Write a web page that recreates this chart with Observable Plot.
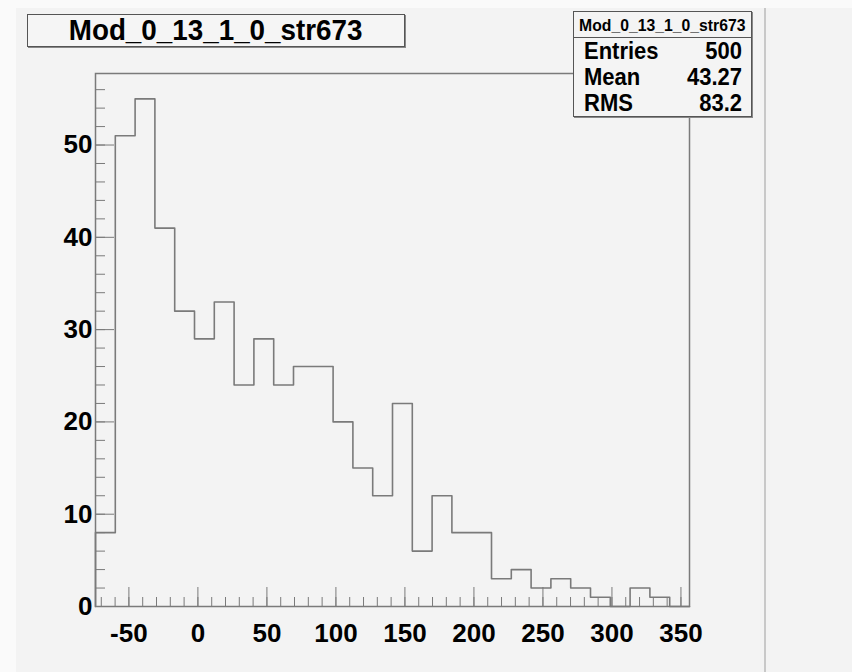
<!DOCTYPE html>
<html>
<head>
<meta charset="utf-8">
<script src="https://cdn.jsdelivr.net/npm/d3@7"></script>
<script src="https://cdn.jsdelivr.net/npm/@observablehq/plot@0.6"></script>
<style>
  html, body { margin: 0; padding: 0; background: #fafafa; }
  #page { position: relative; width: 852px; height: 672px; overflow: hidden;
          font-family: "Liberation Sans", Arial, Helvetica, sans-serif; font-weight: bold; color: #000; }
  #pad { position: absolute; left: 16px; top: 8px; width: 836px; height: 664px; background: #f3f3f3; }
  #sep { position: absolute; left: 764px; top: 8px; width: 2px; height: 664px; background: #c8c8c8; }
  #chart { position: absolute; left: 0; top: 0; }
  #title { position: absolute; left: 27px; top: 14px; width: 376px; height: 31px;
           border: 1px solid #555; box-shadow: 1px 1px 0 #888; background: #f5f5f5;
           font-size: 27px; text-align: center; line-height: 31px; }
  #title span { display: inline-block; transform: scale(1.03, 1.12); }
  #stats { position: absolute; left: 573px; top: 11px; width: 177px; height: 104px;
           border: 1px solid #555; box-shadow: 1px 1px 0 #888; background: #f4f4f4; }
  #stats .head { height: 25px; border-bottom: 1px solid #555; font-size: 15px;
                 text-align: center; line-height: 25px; }
  #stats .head span { display: inline-block; transform: scale(1.05, 1.1); }
  #stats .row { display: flex; justify-content: space-between; height: 26px; line-height: 26px;
                font-size: 22px; padding: 0 9px 0 10px; }
  #stats .row span { display: inline-block; transform: scaleY(1.12); }
  #stats .row:first-of-type { margin-top: 1px; }
</style>
</head>
<body>
<div id="page">
  <div id="pad"></div>
  <div id="sep"></div>
  <div id="chart"></div>
  <div id="title"></div>
  <div id="stats"></div>
</div>
<script>
// ---- data ----
const histName = "Mod_0_13_1_0_str673";
const binLow = -74.2;
const binHigh = 356.2;
const counts = [8, 51, 55, 41, 32, 29, 33, 24, 29, 24, 26, 26, 20, 15, 12, 22, 6, 12, 8, 8, 3, 4, 2, 3, 2, 1, 0, 2, 1, 0];
const xTickLabels = [-50, 0, 50, 100, 150, 200, 250, 300, 350];
const xMinorStep = 10;
const yTickLabels = [0, 10, 20, 30, 40, 50];
const yMinorStep = 2;
const yMax = 57.75;
const statLabels = ["Entries", "Mean", "RMS"];
const statValues = ["500", "43.27", "83.2"];

// ---- derived structures ----
const nBins = counts.length;
const binWidth = (binHigh - binLow) / nBins;
const edges = d3.range(nBins + 1).map(i => binLow + i * binWidth);
const outline = [{x: edges[0], y: 0}]
  .concat(counts.map((c, i) => ({x: edges[i], y: c})))
  .concat([{x: edges[nBins], y: 0}]);
const xMinor = d3.range(-70, binHigh, xMinorStep);
const yMinor = d3.range(0, yMax, yMinorStep);

const gray = "#7a7a7a";
const font = "'Liberation Sans', Arial, Helvetica, sans-serif";

const chart = Plot.plot({
  width: 852,
  height: 672,
  marginLeft: 95,
  marginRight: 163,
  marginTop: 73,
  marginBottom: 66,
  x: {domain: [binLow, binHigh]},
  y: {domain: [0, yMax]},
  style: {background: "transparent", fontFamily: font, color: "#000", overflow: "visible"},
  marks: [
    Plot.axisX({ticks: xMinor, tickSize: -9, fill: "none", stroke: gray, label: null}),
    Plot.axisX({ticks: xTickLabels, tickSize: -19, fill: "none", stroke: gray, label: null}),
    Plot.axisX({ticks: xTickLabels, tickSize: 0, tickPadding: 17, fill: "#000", label: null,
                fontSize: 26, fontWeight: "bold", tickFormat: d => String(d)}),
    Plot.axisY({ticks: yMinor, tickSize: -10, fill: "none", stroke: gray, label: null}),
    Plot.axisY({ticks: yTickLabels, tickSize: -19, fill: "none", stroke: gray, label: null}),
    Plot.axisY({ticks: yTickLabels, tickSize: 0, tickPadding: 3, fill: "#000", label: null,
                fontSize: 26, fontWeight: "bold", tickFormat: d => String(d)}),
    Plot.line(outline, {x: "x", y: "y", curve: "step-after", stroke: gray, strokeWidth: 1.6}),
    Plot.frame({stroke: gray, strokeWidth: 1.5})
  ]
});
document.getElementById("chart").appendChild(chart);

const titleSpan = document.createElement("span");
titleSpan.textContent = histName;
document.getElementById("title").appendChild(titleSpan);
const stats = document.getElementById("stats");
const head = document.createElement("div");
head.className = "head";
const headSpan = document.createElement("span");
headSpan.textContent = histName;
head.appendChild(headSpan);
stats.appendChild(head);
statLabels.forEach((lab, i) => {
  const row = document.createElement("div");
  row.className = "row";
  const a = document.createElement("span"); a.textContent = lab;
  const b = document.createElement("span"); b.textContent = statValues[i];
  row.appendChild(a); row.appendChild(b);
  stats.appendChild(row);
});
</script>
</body>
</html>
